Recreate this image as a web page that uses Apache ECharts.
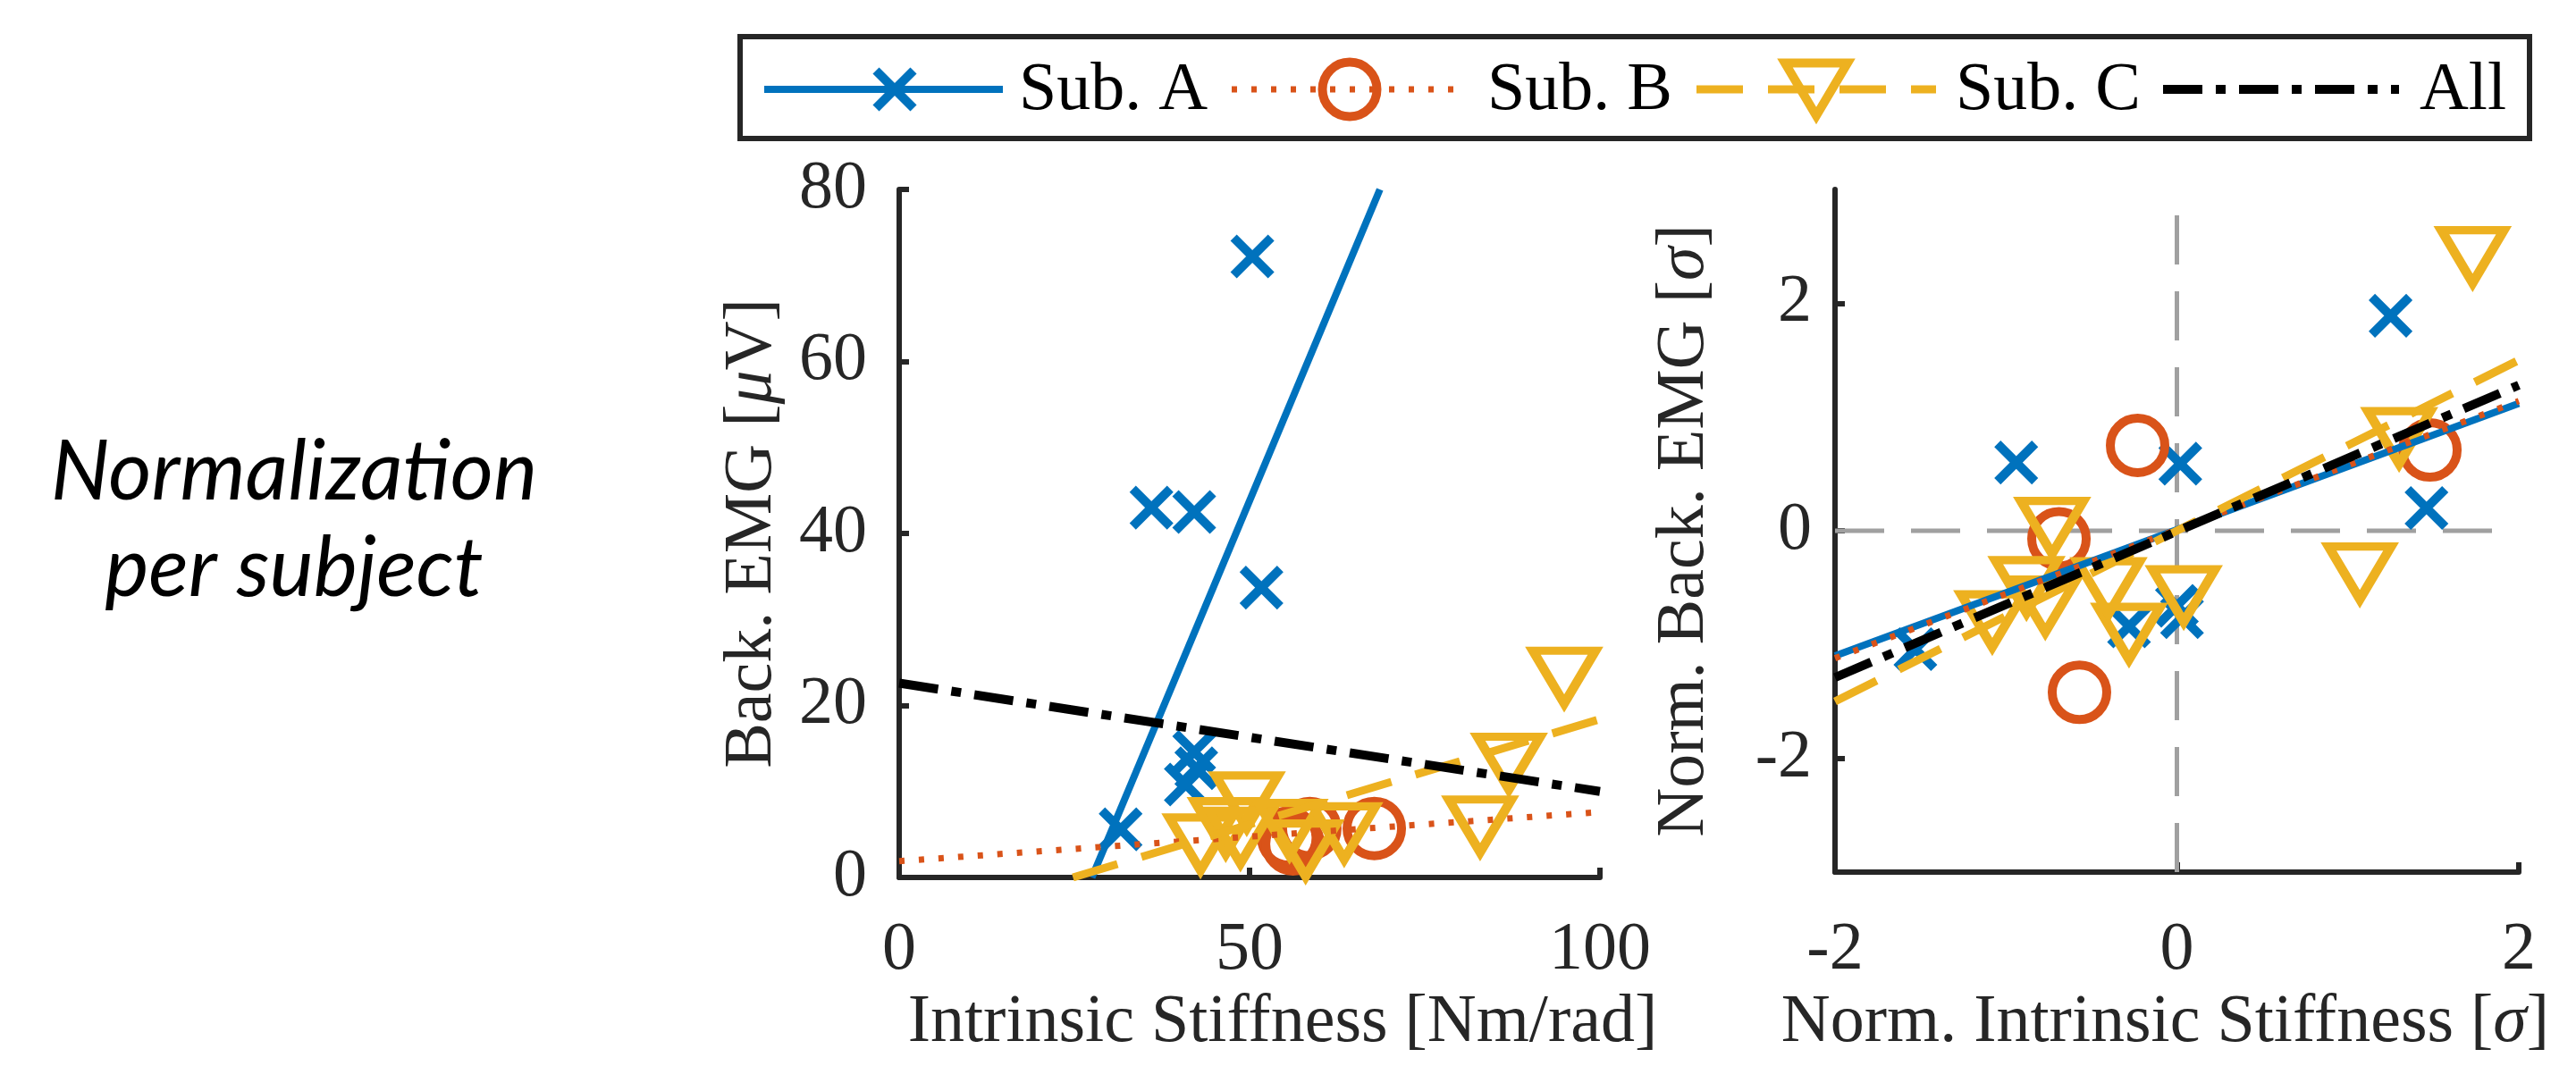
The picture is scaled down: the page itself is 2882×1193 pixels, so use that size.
<!DOCTYPE html>
<html>
<head>
<meta charset="utf-8">
<script src="https://cdn.jsdelivr.net/npm/echarts@6/dist/echarts.min.js"></script>
<style>
  html, body { margin: 0; padding: 0; background: #ffffff; }
  #chart { width: 2882px; height: 1193px; }
</style>
</head>
<body>
<div id="chart"></div>
<script>
// ---------------- DATA ----------------
// Left panel: raw values
const subA_stiff = [50.4, 36.0, 42.1, 51.7, 31.6, 42.1, 42.4, 40.9];
const subA_emg   = [72.2, 43.0, 42.5, 33.7, 5.6, 14.6, 12.7, 10.8];
const subB_stiff = [55.6, 56.2, 58.6, 67.8];
const subB_emg   = [4.6, 3.9, 5.7, 5.7];
const subC_stiff = [94.9, 87.0, 82.9, 49.6, 43.0, 46.6, 48.7, 58.0, 55.7, 63.5];
const subC_emg   = [23.3, 13.3, 6.0, 8.8, 3.9, 5.8, 4.7, 3.2, 5.6, 5.2];
// Left panel: regression line end points
const fitA_raw_x = [27.5, 68.6];  const fitA_raw_y = [0, 80];
const fitB_raw_x = [0, 100];      const fitB_raw_y = [1.9, 7.6];
const fitC_raw_x = [24.8, 100];   const fitC_raw_y = [0, 18.4];
const fitAll_raw_x = [0, 100];    const fitAll_raw_y = [22.6, 10.0];

// Right panel: normalized values
const subA_nx = [1.25, -0.94, 0.02, 1.46, -1.53, 0.00, 0.03, -0.28];
const subA_ny = [1.89, 0.60, 0.59, 0.20, -1.04, -0.66, -0.76, -0.84];
const subB_nx = [-0.69, -0.57, -0.23, 1.48];
const subB_ny = [-0.07, -1.42, 0.75, 0.71];
const subC_nx = [1.73, 1.30, 1.07, -0.73, -1.08, -0.88, -0.77, -0.28, 0.04, -0.40];
const subC_ny = [2.41, 0.82, -0.37, 0.03, -0.79, -0.49, -0.66, -0.90, -0.57, -0.50];
// Right panel: regression line end points
const fitN_x = [-2, 2];
const fitA_n_y = [-1.10, 1.12];
const fitB_n_y = [-1.12, 1.14];
const fitC_n_y = [-1.50, 1.50];
const fitAll_n_y = [-1.29, 1.28];
// Right panel: zero reference lines
const refV_x = [0, 0];  const refV_y = [-3, 3];
const refH_x = [-2, 2]; const refH_y = [0, 0];

// Tick labels
const leftXTicks = [0, 50, 100];
const leftYTicks = [0, 20, 40, 60, 80];
const rightXTicks = [-2, 0, 2];
const rightYTicks = [-2, 0, 2];

const legendNames = ['Sub. A', 'Sub. B', 'Sub. C', 'All'];

// ---------------- STYLE ----------------
const SERIF = "'Liberation Serif', 'Times New Roman', serif";
const AX = '#262626';
const BLUE = '#0072BD', RED = '#D95319', YEL = '#EDB120', BLK = '#000000';
const FS = 76;
const CROSS = 'path://M0,0L10,10M10,0L0,10';

function pts(xs, ys) { return xs.map((x, i) => [x, ys[i]]); }

function axisCommon(extra) {
  return Object.assign({
    type: 'value',
    axisLine: { show: true, onZero: false, lineStyle: { color: AX, width: 6 } },
    axisTick: { show: true, inside: true, length: 11, lineStyle: { color: AX, width: 6 } },
    axisLabel: { fontFamily: SERIF, fontSize: FS, color: AX, showMinLabel: true, showMaxLabel: true },
    splitLine: { show: false },
    nameLocation: 'middle',
    nameTextStyle: { fontFamily: SERIF, fontSize: FS, color: AX,
      rich: { i: { fontFamily: SERIF, fontSize: FS, color: AX, fontStyle: 'italic' } } }
  }, extra);
}

const xAxes = [
  axisCommon({ gridIndex: 0, min: 0, max: 100, interval: 50,
    name: 'Intrinsic Stiffness [Nm/rad]', nameGap: 80 }),
  axisCommon({ gridIndex: 1, min: -2, max: 2, interval: 2,
    name: 'Norm. Intrinsic Stiffness [{i|σ}]', nameGap: 86 })
];
xAxes[0].axisLabel = Object.assign({}, xAxes[0].axisLabel, { margin: 44 });
xAxes[1].axisLabel = Object.assign({}, xAxes[1].axisLabel, { margin: 50 });
xAxes[0].nameTextStyle = Object.assign({}, xAxes[0].nameTextStyle, { padding: [0, 0, 0, 74] });
xAxes[1].nameTextStyle = Object.assign({}, xAxes[1].nameTextStyle, { padding: [0, 26, 0, 0] });

const yAxes = [
  axisCommon({ gridIndex: 0, min: 0, max: 80, interval: 20,
    name: 'Back. EMG [{i|μ}V]', nameGap: 126 }),
  axisCommon({ gridIndex: 1, min: -3, max: 3,
    name: 'Norm. Back. EMG [{i|σ}]', nameGap: 130 })
];
yAxes[0].axisLabel = Object.assign({}, yAxes[0].axisLabel, { margin: 36 });
yAxes[1].axisLabel = Object.assign({}, yAxes[1].axisLabel, { margin: 26, customValues: rightYTicks });
yAxes[1].axisTick = Object.assign({}, yAxes[1].axisTick, { customValues: rightYTicks });

const MW = 10; // marker stroke width
function markerSeries(panel, data, kind, color) {
  const s = {
    type: 'scatter', xAxisIndex: panel, yAxisIndex: panel, data: data,
    silent: true, z: 3,
    itemStyle: { color: 'rgba(0,0,0,0)', borderColor: color, borderWidth: MW, opacity: 1 }
  };
  if (kind === 'x') { s.symbol = CROSS; s.symbolSize = 42; }
  if (kind === 'o') { s.symbol = 'circle'; s.symbolSize = 61; }
  if (kind === 'v') {
    s.symbol = 'triangle'; s.symbolSize = [70, 59]; s.symbolRotate = 180;
    s.itemStyle.borderJoin = 'miter'; s.itemStyle.borderMiterLimit = 10;
  }
  return s;
}
function lineSeries(panel, data, color, width, dash, z) {
  return {
    type: 'line', xAxisIndex: panel, yAxisIndex: panel, data: data,
    symbol: 'none', showSymbol: false, silent: true, z: z || 5, clip: true,
    lineStyle: { color: color, width: width, type: dash }
  };
}

const DASH_B = [6, 16], DASH_C = [52, 28], DASH_ALL = [44, 15, 11, 15], DASH_REF = [55, 30];
const WA = 8, WB = 7, WC = 9, WALL = 10;

const series = [
  // right panel reference lines
  lineSeries(1, pts(refV_x, refV_y), '#a0a0a0', 5, DASH_REF, 1),
  lineSeries(1, pts(refH_x, refH_y), '#a0a0a0', 5, DASH_REF, 1),
  // left panel markers
  markerSeries(0, pts(subA_stiff, subA_emg), 'x', BLUE),
  markerSeries(0, pts(subB_stiff, subB_emg), 'o', RED),
  markerSeries(0, pts(subC_stiff, subC_emg), 'v', YEL),
  // left panel fits
  lineSeries(0, pts(fitA_raw_x, fitA_raw_y), BLUE, WA, 'solid', 5),
  lineSeries(0, pts(fitB_raw_x, fitB_raw_y), RED, WB, DASH_B, 5),
  lineSeries(0, pts(fitC_raw_x, fitC_raw_y), YEL, WC, DASH_C, 5),
  lineSeries(0, pts(fitAll_raw_x, fitAll_raw_y), BLK, WALL, DASH_ALL, 6),
  // right panel markers
  markerSeries(1, pts(subA_nx, subA_ny), 'x', BLUE),
  markerSeries(1, pts(subB_nx, subB_ny), 'o', RED),
  markerSeries(1, pts(subC_nx, subC_ny), 'v', YEL),
  // right panel fits
  lineSeries(1, pts(fitN_x, fitA_n_y), BLUE, WA, 'solid', 5),
  lineSeries(1, pts(fitN_x, fitB_n_y), RED, WB, DASH_B, 5),
  lineSeries(1, pts(fitN_x, fitC_n_y), YEL, WC, DASH_C, 5),
  lineSeries(1, pts(fitN_x, fitAll_n_y), BLK, WALL, DASH_ALL, 6)
];

// ---------------- LEGEND (drawn) ----------------
const LY = 100;
const legendGraphics = [
  { type: 'rect', shape: { x: 828, y: 41, width: 2002, height: 114 },
    style: { fill: '#fff', stroke: AX, lineWidth: 6 }, z: 10 },
  // Sub. A
  { type: 'line', shape: { x1: 855, y1: LY, x2: 1122, y2: LY }, style: { stroke: BLUE, lineWidth: WA }, z: 11 },
  { type: 'polyline', shape: { points: [[980, LY - 21], [1022, LY + 21]] }, style: { stroke: BLUE, lineWidth: MW, fill: null }, z: 12 },
  { type: 'polyline', shape: { points: [[1022, LY - 21], [980, LY + 21]] }, style: { stroke: BLUE, lineWidth: MW, fill: null }, z: 12 },
  { type: 'text', x: 1140, y: LY + 2, style: { text: legendNames[0], font: FS + 'px ' + SERIF, fill: '#000', verticalAlign: 'middle', align: 'left' }, z: 12 },
  // Sub. B
  { type: 'line', shape: { x1: 1378, y1: LY, x2: 1640, y2: LY }, style: { stroke: RED, lineWidth: WB, lineDash: DASH_B }, z: 11 },
  { type: 'circle', shape: { cx: 1510, cy: LY, r: 30.5 }, style: { stroke: RED, lineWidth: MW, fill: null }, z: 12 },
  { type: 'text', x: 1664, y: LY + 2, style: { text: legendNames[1], font: FS + 'px ' + SERIF, fill: '#000', verticalAlign: 'middle', align: 'left' }, z: 12 },
  // Sub. C
  { type: 'line', shape: { x1: 1898, y1: LY, x2: 2166, y2: LY }, style: { stroke: YEL, lineWidth: WC, lineDash: DASH_C }, z: 11 },
  { type: 'polygon', shape: { points: [[1997, LY - 29.5], [2067, LY - 29.5], [2032, LY + 29.5]] }, style: { stroke: YEL, lineWidth: MW, fill: null, lineJoin: 'miter', miterLimit: 10 }, z: 12 },
  { type: 'text', x: 2188, y: LY + 2, style: { text: legendNames[2], font: FS + 'px ' + SERIF, fill: '#000', verticalAlign: 'middle', align: 'left' }, z: 12 },
  // All
  { type: 'line', shape: { x1: 2420, y1: LY, x2: 2684, y2: LY }, style: { stroke: BLK, lineWidth: WALL, lineDash: DASH_ALL }, z: 11 },
  { type: 'text', x: 2804, y: LY + 2, style: { text: legendNames[3], font: FS + 'px ' + SERIF, fill: '#000', verticalAlign: 'middle', align: 'right' }, z: 12 },
  // Row label
  { type: 'text', x: 329, y: 583, style: { text: 'Normalization\nper subject', font: 'italic 93px Lato, "Open Sans", sans-serif', fill: '#000', align: 'center', verticalAlign: 'middle', lineHeight: 108 }, z: 12 }
];

const chart = echarts.init(document.getElementById('chart'), null, { renderer: 'canvas' });
chart.setOption({
  animation: false,
  backgroundColor: '#ffffff',
  grid: [
    { left: 1006, top: 212, width: 784, height: 770, containLabel: false },
    { left: 2053, top: 212, width: 765, height: 764, containLabel: false }
  ],
  xAxis: xAxes,
  yAxis: yAxes,
  series: series,
  graphic: legendGraphics
});
</script>
</body>
</html>
